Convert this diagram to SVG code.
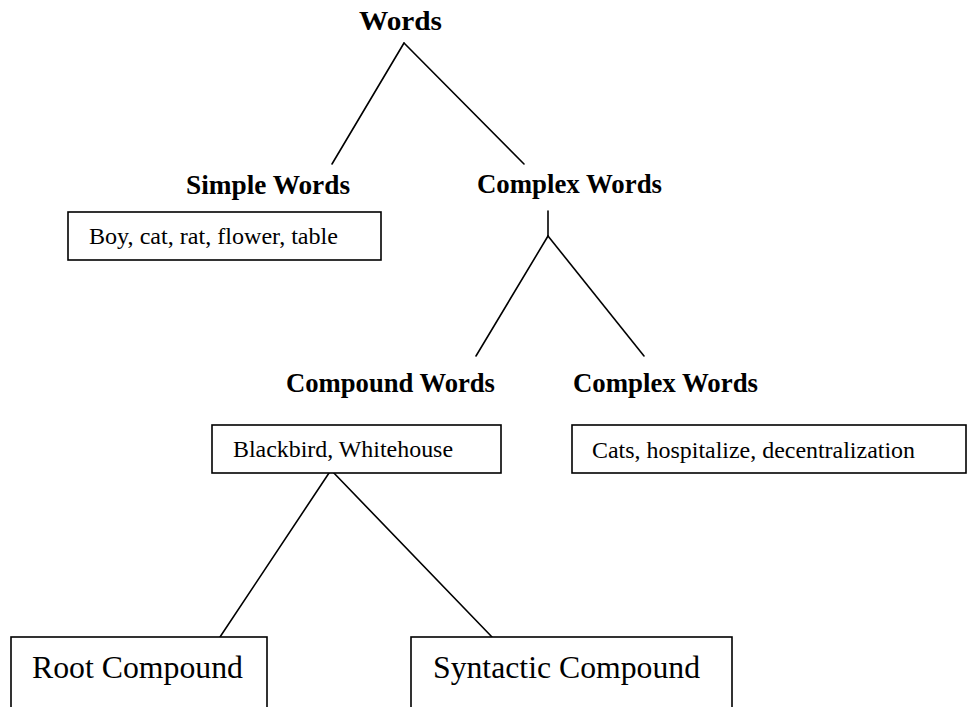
<svg xmlns="http://www.w3.org/2000/svg" width="971" height="707" viewBox="0 0 971 707">
<style>
  .bg { fill: #ffffff; }
  .h { font-family: "Liberation Serif", "Times New Roman", serif; font-weight: bold; font-size: 27px; fill: #000; }
  .t { font-family: "Liberation Serif", "Times New Roman", serif; font-size: 24px; fill: #000; }
  .tl { font-family: "Liberation Serif", "Times New Roman", serif; font-size: 31px; fill: #000; }
  .box { fill: #ffffff; stroke: #000; stroke-width: 1.6; }
  .edge { stroke: #000; stroke-width: 1.6; fill: none; stroke-linecap: round; }
</style>
<rect class="bg" x="0" y="0" width="971" height="707"/>
<g id="connectors">
  <line class="edge" x1="404" y1="43" x2="332" y2="164"/>
  <line class="edge" x1="404" y1="43" x2="524" y2="164"/>
  <line class="edge" x1="548" y1="211" x2="548" y2="236"/>
  <line class="edge" x1="548" y1="236" x2="476" y2="356"/>
  <line class="edge" x1="548" y1="236" x2="644" y2="356"/>
  <line class="edge" x1="331" y1="470" x2="220" y2="637"/>
  <line class="edge" x1="331" y1="470" x2="492" y2="637"/>
</g>
<g id="node-words">
  <text class="h" x="359" y="30" font-size="28" textLength="83" lengthAdjust="spacingAndGlyphs">Words</text>
</g>
<g id="node-simple-words">
  <text class="h" x="186" y="194" textLength="164" lengthAdjust="spacingAndGlyphs">Simple Words</text>
</g>
<g id="node-simple-examples">
  <rect class="box" x="68" y="212" width="313" height="48"/>
  <text class="t" x="89" y="244" textLength="249" lengthAdjust="spacingAndGlyphs">Boy, cat, rat, flower, table</text>
</g>
<g id="node-complex-words">
  <text class="h" x="477" y="193" textLength="185" lengthAdjust="spacingAndGlyphs">Complex Words</text>
</g>
<g id="node-compound-words">
  <text class="h" x="286" y="392" textLength="209" lengthAdjust="spacingAndGlyphs">Compound Words</text>
</g>
<g id="node-complex-words-2">
  <text class="h" x="573" y="392" textLength="185" lengthAdjust="spacingAndGlyphs">Complex Words</text>
</g>
<g id="node-compound-examples">
  <rect class="box" x="212" y="425" width="289" height="48"/>
  <text class="t" x="233" y="457" textLength="220" lengthAdjust="spacingAndGlyphs">Blackbird, Whitehouse</text>
</g>
<g id="node-complex-examples">
  <rect class="box" x="572" y="425" width="394" height="48"/>
  <text class="t" x="592" y="458" textLength="323" lengthAdjust="spacingAndGlyphs">Cats, hospitalize, decentralization</text>
</g>
<g id="node-root-compound">
  <rect class="box" x="11" y="637" width="256" height="90"/>
  <text class="tl" x="32" y="678" textLength="211" lengthAdjust="spacingAndGlyphs">Root Compound</text>
</g>
<g id="node-syntactic-compound">
  <rect class="box" x="411" y="637" width="321" height="90"/>
  <text class="tl" x="433" y="678" textLength="267" lengthAdjust="spacingAndGlyphs">Syntactic Compound</text>
</g>
</svg>
